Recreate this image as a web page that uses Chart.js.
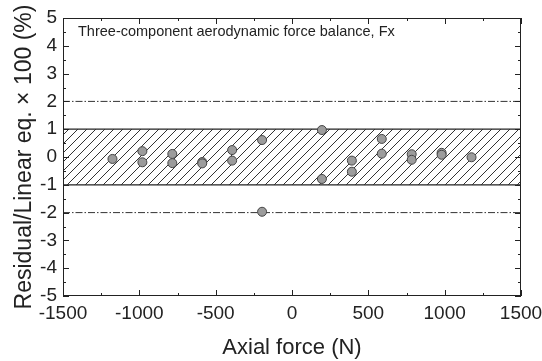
<!DOCTYPE html>
<html>
<head>
<meta charset="utf-8">
<script src="https://cdn.jsdelivr.net/npm/chart.js@4/dist/chart.umd.min.js"></script>
<style>
  html, body { margin: 0; padding: 0; background: #fff; }
  #wrap { width: 542px; height: 361px; }
</style>
</head>
<body>
<div id="wrap"><canvas id="c" width="542" height="361"></canvas></div>
<script>
// ---- data ----
const axialForce = [-1176, -980, -980, -784, -784, -588, -588, -392, -392, -196, -196, 196, 196, 392, 392, 588, 588, 784, 784, 980, 980, 1176];
const residual   = [-0.07, 0.21, -0.19, 0.11, -0.22, -0.18, -0.23, 0.25, -0.13, 0.61, -1.97, 0.97, -0.79, -0.13, -0.53, 0.65, 0.12, 0.10, -0.10, 0.15, 0.08, -0.01];
const xTickValues = [-1500, -1000, -500, 0, 500, 1000, 1500];
const yTickValues = [-5, -4, -3, -2, -1, 0, 1, 2, 3, 4, 5];
const bandLimit = [1, -1];
const outerLimit = [2, -2];
const xRange = [-1500, 1500];
const annotationText = 'Three-component aerodynamic force balance, Fx';
const xTitle = 'Axial force (N)';
const yTitle = 'Residual/Linear eq. \u00D7 100 (%)';

// ---- hatch pattern ----
function makeHatch() {
  const s = 9;
  const pc = document.createElement('canvas');
  pc.width = s; pc.height = s;
  const p = pc.getContext('2d');
  p.strokeStyle = '#333';
  p.lineWidth = 1;
  p.beginPath();
  p.moveTo(-1, s + 1); p.lineTo(s + 1, -1);
  p.moveTo(-2, 2); p.lineTo(2, -2);
  p.moveTo(s - 2, s + 2); p.lineTo(s + 2, s - 2);
  p.stroke();
  return document.getElementById('c').getContext('2d').createPattern(pc, 'repeat');
}
const hatch = makeHatch();

const points = axialForce.map((x, i) => ({ x: x, y: residual[i] }));
const hLine = v => xRange.map(x => ({ x: x, y: v }));

const FONT = "'Liberation Sans', Arial, Helvetica, sans-serif";
const INK = '#222';

const frameAndTicks = {
  id: 'frameAndTicks',
  afterDatasetsDraw(chart) {
    const { ctx, chartArea: a, scales } = chart;
    const xs = scales.x, ys = scales.y;
    ctx.save();
    ctx.strokeStyle = INK;
    ctx.lineWidth = 1;
    ctx.strokeRect(a.left + 0.5, a.top + 0.5, a.right - a.left - 1, a.bottom - a.top - 1);
    ctx.beginPath();
    for (let i = 0; i < xTickValues.length; i++) {
      const px = Math.round(xs.getPixelForValue(xTickValues[i])) + 0.5;
      ctx.moveTo(px, a.bottom); ctx.lineTo(px, a.bottom - 6);
      ctx.moveTo(px, a.top); ctx.lineTo(px, a.top + 6);
      if (i < xTickValues.length - 1) {
        const m = Math.round(xs.getPixelForValue((xTickValues[i] + xTickValues[i + 1]) / 2)) + 0.5;
        ctx.moveTo(m, a.bottom); ctx.lineTo(m, a.bottom - 3);
        ctx.moveTo(m, a.top); ctx.lineTo(m, a.top + 3);
      }
    }
    for (let i = 0; i < yTickValues.length; i++) {
      const py = Math.round(ys.getPixelForValue(yTickValues[i])) + 0.5;
      ctx.moveTo(a.left, py); ctx.lineTo(a.left + 6, py);
      ctx.moveTo(a.right, py); ctx.lineTo(a.right - 6, py);
      if (i < yTickValues.length - 1) {
        const m = Math.round(ys.getPixelForValue((yTickValues[i] + yTickValues[i + 1]) / 2)) + 0.5;
        ctx.moveTo(a.left, m); ctx.lineTo(a.left + 3, m);
        ctx.moveTo(a.right, m); ctx.lineTo(a.right - 3, m);
      }
    }
    ctx.stroke();
    ctx.fillStyle = INK;
    ctx.font = '14.5px ' + FONT;
    ctx.textBaseline = 'middle';
    ctx.textAlign = 'left';
    ctx.fillText(annotationText, a.left + 15, a.top + 14);
    ctx.restore();
  }
};

new Chart(document.getElementById('c'), {
  type: 'scatter',
  data: {
    datasets: [
      { type: 'line', data: hLine(bandLimit[0]), borderColor: INK, borderWidth: 1.2, pointRadius: 0, fill: false, order: 3 },
      { type: 'line', data: hLine(bandLimit[1]), borderColor: INK, borderWidth: 1.2, pointRadius: 0, fill: '-1', backgroundColor: hatch, order: 3 },
      { type: 'line', data: hLine(outerLimit[0]), borderColor: '#333', borderWidth: 1, borderDash: [7, 2, 1.5, 2], pointRadius: 0, fill: false, order: 2 },
      { type: 'line', data: hLine(outerLimit[1]), borderColor: '#333', borderWidth: 1, borderDash: [7, 2, 1.5, 2], pointRadius: 0, fill: false, order: 2 },
      { data: points, pointRadius: 4.5, pointBackgroundColor: '#9c9c9c', pointBorderColor: '#444', pointBorderWidth: 1, order: 1 }
    ]
  },
  options: {
    responsive: false,
    animation: false,
    devicePixelRatio: 1,
    layout: { padding: { left: 0, right: 21, top: 18, bottom: 0 } },
    plugins: { legend: { display: false }, tooltip: { enabled: false } },
    scales: {
      x: {
        type: 'linear', min: xRange[0], max: xRange[1],
        afterFit: s => { s.height = 65; s.paddingLeft = 0; s.paddingRight = 0; },
        afterBuildTicks: s => { s.ticks = xTickValues.map(v => ({ value: v })); },
        grid: { display: false, drawTicks: false },
        border: { display: false },
        ticks: { color: INK, font: { family: FONT, size: 19 }, padding: 6, maxRotation: 0, autoSkip: false, callback: v => String(v) },
        title: { display: true, text: xTitle, color: INK, font: { family: FONT, size: 22 }, padding: { top: 0, bottom: 0 } }
      },
      y: {
        type: 'linear', min: -5, max: 5,
        afterFit: s => { s.width = 63; s.paddingTop = 0; s.paddingBottom = 0; },
        afterBuildTicks: s => { s.ticks = yTickValues.map(v => ({ value: v })); },
        grid: { display: false, drawTicks: false },
        border: { display: false },
        ticks: { color: INK, font: { family: FONT, size: 19 }, padding: 6, autoSkip: false, callback: v => String(v) },
        title: { display: true, text: yTitle, color: INK, font: { family: FONT, size: 23 }, padding: { top: 11, bottom: 0 } }
      }
    }
  },
  plugins: [frameAndTicks]
});
</script>
</body>
</html>
